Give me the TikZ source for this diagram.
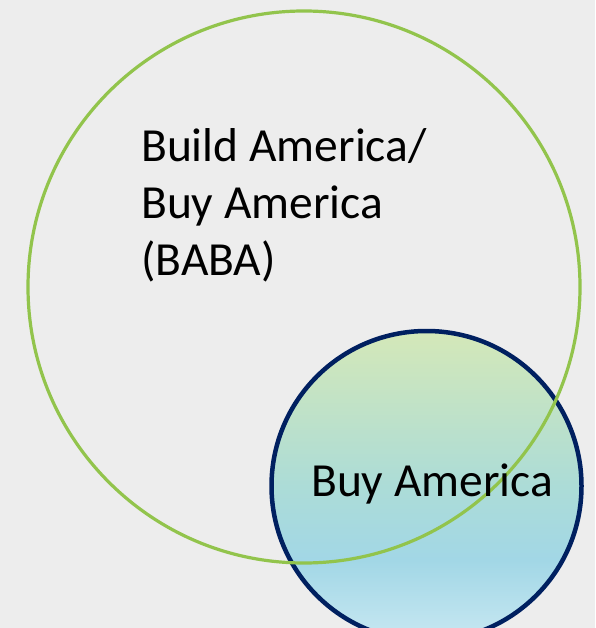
\documentclass[tikz,border=0pt]{standalone}
\usepackage{fontspec}
\setmainfont{Carlito}
\definecolor{bg}{RGB}{237,237,237}
\definecolor{babagreen}{RGB}{146,196,76}
\definecolor{navy}{RGB}{0,32,96}
\definecolor{stopA}{RGB}{200,232,242}
\definecolor{stopB}{RGB}{162,215,230}
\definecolor{stopC}{RGB}{172,220,215}
\definecolor{stopD}{RGB}{212,232,184}
\pgfdeclareverticalshading{bashade}{100bp}{color(0bp)=(stopA); color(25bp)=(stopA); color(38bp)=(stopB); color(50bp)=(stopC); color(75bp)=(stopD); color(100bp)=(stopD)}
\tikzset{
  bigcircle/.style={draw=babagreen, line width=3.2pt},
  smallcircle/.style={draw=navy, line width=4.5pt, shading=bashade},
  lbl/.style={font=\fontsize{47.5}{57}\selectfont, text=black, inner sep=0pt, anchor=base west, align=left}
}
\begin{document}
\begin{tikzpicture}[x=1pt,y=-1pt]
\fill[bg] (0,0) rectangle (595,628);
\useasboundingbox (0,0) rectangle (595,628);
\begin{scope}
\clip (0,0) rectangle (595,628);
\path[smallcircle] (426.5,486) circle[radius=155];
\end{scope}
\draw[bigcircle] (304,287) circle[radius=276];
\node[lbl] (baba) at (141,275) {Build America/\\Buy America\\(BABA)};
\node[lbl] (ba) at (311,496) {Buy America};
\end{tikzpicture}
\end{document}
